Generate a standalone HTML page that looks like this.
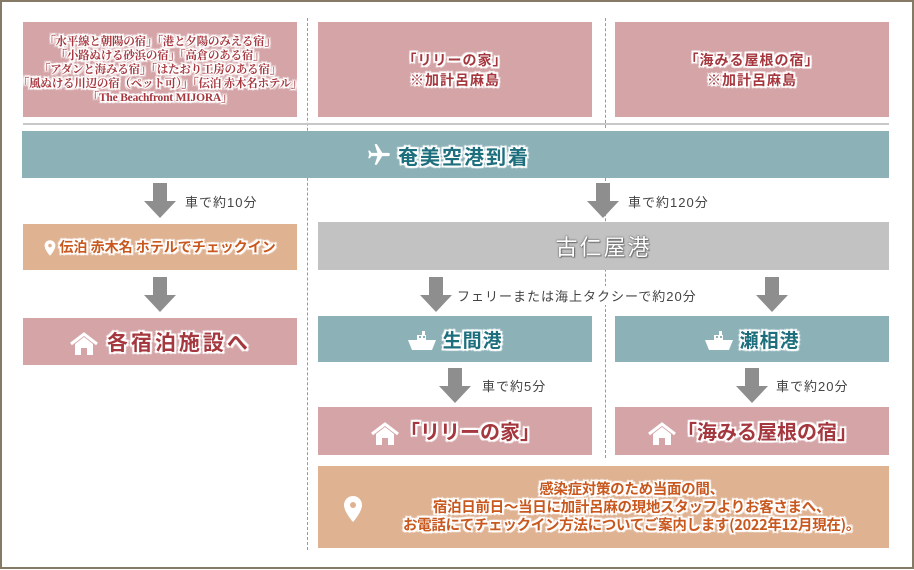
<!DOCTYPE html>
<html><head><meta charset="utf-8"><style>
body{margin:0;width:914px;height:570px;overflow:hidden;background:#fff;position:relative;font-family:"Liberation Serif","Noto Serif CJK SC","Noto Sans CJK JP",serif}
.frame{position:absolute;left:0;top:0;width:910px;height:565px;border:2px solid #857a65}
.b{position:absolute;display:flex;align-items:center;justify-content:center;text-align:center}
.pink{background:#d4a4a7}.teal{background:#8cb2b8}.gray{background:#c2c2c2}.org{background:#dfb292}
.o{text-shadow:1px 1px 0 #fff,-1px -1px 0 #fff,1px -1px 0 #fff,-1px 1px 0 #fff,0 1.5px 0 #fff,0 -1.5px 0 #fff,1.5px 0 0 #fff,-1.5px 0 0 #fff,2px 2px 1px #fff,-2px -2px 1px #fff,2px -2px 1px #fff,-2px 2px 1px #fff}
.red{color:#a5373e}.tc{color:#1e6f7d}.oc{color:#c8581e}
.dv{position:absolute;width:0;border-left:1px dashed #999}
.lab{position:absolute;font-size:13px;color:#444;font-family:"Liberation Sans","Noto Sans CJK JP",sans-serif;letter-spacing:1px}
.big{font-family:"Noto Sans CJK JP",sans-serif;font-weight:bold}
svg{position:absolute}
.ic{position:static;display:inline-block;vertical-align:middle}
</style></head><body>
<div class="frame"></div>
<div class="dv" style="left:307px;top:18px;height:532px"></div>
<div class="dv" style="left:605px;top:18px;height:110px"></div>
<div class="dv" style="left:605px;top:178px;height:280px"></div>

<div class="b pink" style="left:23px;top:22px;width:274px;height:95px"><div class="o red" style="font-size:11.5px;line-height:14px;white-space:nowrap;font-weight:bold;letter-spacing:-0.2px">「水平線と朝陽の宿」「港と夕陽のみえる宿」<br>「小路ぬける砂浜の宿」「高倉のある宿」<br>「アダンと海みる宿」「はたおり工房のある宿」<br>「風ぬける川辺の宿（ペット可）」「伝泊 赤木名ホテル」<br>「The Beachfront MIJORA」</div></div>
<div class="b pink" style="left:318px;top:22px;width:274px;height:95px"><div class="o red big" style="font-size:14px;line-height:20px;letter-spacing:1px">「リリーの家」<br>※加計呂麻島</div></div>
<div class="b pink" style="left:615px;top:22px;width:274px;height:95px"><div class="o red big" style="font-size:14px;line-height:20px;letter-spacing:1px">「海みる屋根の宿」<br>※加計呂麻島</div></div>
<div style="position:absolute;left:23px;top:123px;width:866px;height:2px;background:#c8c8c8"></div>

<div class="b teal" style="left:22px;top:131px;width:867px;height:47px"></div>
<svg style="left:366px;top:142px" width="26" height="26" viewBox="0 0 24 24"><path fill="#fff" d="M21 16v-2l-8-5V3.5a1.5 1.5 0 0 0-3 0V9l-8 5v2l8-2.5V19l-2 1.5V22l3.5-1 3.5 1v-1.5L13 19v-5.5z" transform="rotate(90 12 12)"/></svg>
<div class="o tc big" style="position:absolute;left:398px;top:141px;font-size:20px;letter-spacing:2px">奄美空港到着</div>

<svg width="914" height="570" style="left:0;top:0">
<g fill="#8e8e8e">
<path d="M153 183h14v18h9l-16 17-16-17h9z"/>
<path d="M153 277h14v18h9l-16 17-16-17h9z"/>
<path d="M596 183h14v18h9l-16 17-16-17h9z"/>
<path d="M429 277h14v18h9l-16 17-16-17h9z"/>
<path d="M765 277h14v18h9l-16 17-16-17h9z"/>
<path d="M448 368h14v18h9l-16 17-16-17h9z"/>
<path d="M745 368h14v18h9l-16 17-16-17h9z"/>
</g>
</svg>
<div class="lab" style="left:185px;top:192px">車で約10分</div>
<div class="lab" style="left:628px;top:192px">車で約120分</div>
<div class="lab" style="left:457px;top:286px;background:#fff">フェリーまたは海上タクシーで約20分</div>
<div class="lab" style="left:482px;top:376px">車で約5分</div>
<div class="lab" style="left:776px;top:376px">車で約20分</div>

<div class="b org" style="left:23px;top:224px;width:274px;height:46px"><span class="o oc big" style="font-size:14px"><svg class="ic" width="12" height="16" viewBox="0 0 20 26"><path fill="#fff" d="M10 0a9 9 0 0 0-9 9c0 7 9 17 9 17s9-10 9-17a9 9 0 0 0-9-9z"/><circle cx="10" cy="9" r="3" fill="#dfb292"/></svg> 伝泊 赤木名 ホテルでチェックイン</span></div>
<div class="b pink" style="left:23px;top:318px;width:274px;height:47px"><span class="o red big" style="font-size:21px;letter-spacing:3px"><svg class="ic" width="30" height="24" viewBox="0 0 30 24"><path d="M2 12L15 2l13 10" fill="none" stroke="#fff" stroke-width="3"/><path fill="#fff" d="M6 12l9-7 9 7v11h-6v-7h-6v7H6z"/></svg> 各宿泊施設へ</span></div>

<div class="b gray" style="left:318px;top:222px;width:571px;height:48px"><span class="big" style="font-size:22px;color:#fff;letter-spacing:2px;font-weight:normal;text-shadow:0 0 2px #666,0 0 1px #555,1px 1px 1px #777">古仁屋港</span></div>

<div class="b teal" style="left:318px;top:316px;width:274px;height:46px"><span class="o tc big" style="font-size:19px;letter-spacing:1px"><svg class="ic" width="30" height="20" viewBox="0 0 30 20"><path fill="#fff" d="M1 9h28l-4 10H5z M10 4h9v5h-9z M15 0h3v4h-3z"/><rect x="12" y="5" width="2" height="2" fill="#8cb2b8"/><rect x="16" y="5" width="2" height="2" fill="#8cb2b8"/></svg> 生間港</span></div>
<div class="b teal" style="left:615px;top:316px;width:274px;height:46px"><span class="o tc big" style="font-size:19px;letter-spacing:1px"><svg class="ic" width="30" height="20" viewBox="0 0 30 20"><path fill="#fff" d="M1 9h28l-4 10H5z M10 4h9v5h-9z M15 0h3v4h-3z"/><rect x="12" y="5" width="2" height="2" fill="#8cb2b8"/><rect x="16" y="5" width="2" height="2" fill="#8cb2b8"/></svg> 瀬相港</span></div>

<div class="b pink" style="left:318px;top:407px;width:274px;height:48px"><span class="o red big" style="font-size:20px"><svg class="ic" width="30" height="24" viewBox="0 0 30 24"><path d="M2 12L15 2l13 10" fill="none" stroke="#fff" stroke-width="3"/><path fill="#fff" d="M6 12l9-7 9 7v11h-6v-7h-6v7H6z"/></svg>「リリーの家」</span></div>
<div class="b pink" style="left:615px;top:407px;width:274px;height:48px"><span class="o red big" style="font-size:20px"><svg class="ic" width="30" height="24" viewBox="0 0 30 24"><path d="M2 12L15 2l13 10" fill="none" stroke="#fff" stroke-width="3"/><path fill="#fff" d="M6 12l9-7 9 7v11h-6v-7h-6v7H6z"/></svg>「海みる屋根の宿」</span></div>

<div class="b org" style="left:318px;top:466px;width:571px;height:82px"><div class="o oc" style="font-size:14.5px;line-height:18px;margin-left:56px;font-family:'Noto Sans CJK JP',sans-serif;font-weight:bold;white-space:nowrap;letter-spacing:-0.3px">感染症対策のため当面の間、<br>宿泊日前日～当日に加計呂麻の現地スタッフよりお客さまへ、<br>お電話にてチェックイン方法についてご案内します(2022年12月現在)。</div></div>
<svg style="left:343px;top:496px" width="20" height="26" viewBox="0 0 20 26"><path fill="#fff" d="M10 0a9 9 0 0 0-9 9c0 7 9 17 9 17s9-10 9-17a9 9 0 0 0-9-9z"/><circle cx="10" cy="9" r="3" fill="#dfb292"/></svg>
</body></html>
